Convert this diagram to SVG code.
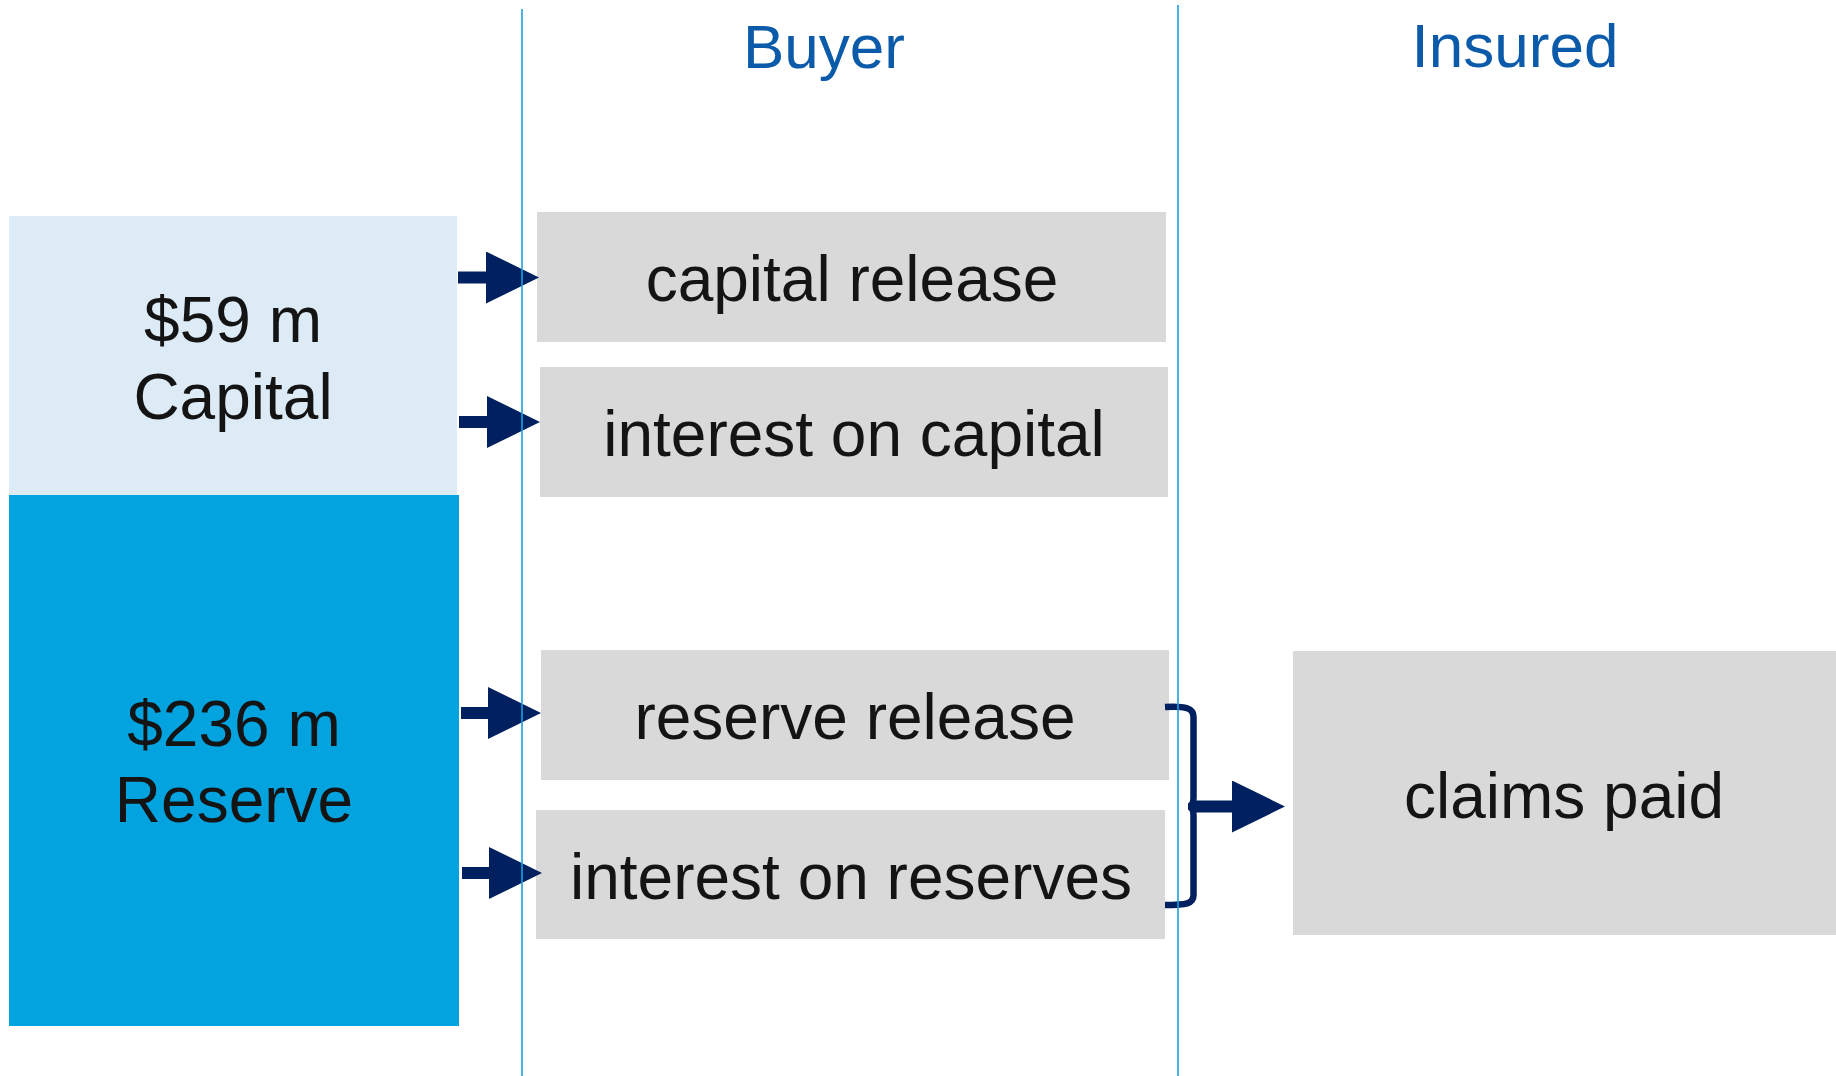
<svg xmlns="http://www.w3.org/2000/svg" width="1836" height="1076" viewBox="0 0 1836 1076">
  <style>
    text { font-family: "Liberation Sans", Arial, sans-serif; }
    .lbl { font-size: 64px; fill: #141414; text-anchor: middle; }
    .hdr { font-size: 62px; fill: #0B5BAA; text-anchor: middle; }
    .flow { fill: #D9D9D9; }
    .conn { stroke: #00205F; stroke-width: 12; fill: none; }
    .lane { stroke: #1BA0DD; stroke-width: 1.6; }
  </style>
  <defs>
    <marker id="head" markerUnits="userSpaceOnUse" markerWidth="54" markerHeight="54" refX="0" refY="26" orient="auto">
      <path d="M0,0 L53,26 L0,52 Z" fill="#00205F"/>
    </marker>
  </defs>

  <rect width="1836" height="1076" fill="#FFFFFF"/>

  <!-- column headings -->
  <text class="hdr" x="824" y="68">Buyer</text>
  <text class="hdr" x="1515" y="67">Insured</text>

  <!-- funding blocks -->
  <g id="capital">
    <rect x="9" y="216" width="448" height="280" fill="#DDEBF7"/>
    <text class="lbl" x="233" y="342">$59 m</text>
    <text class="lbl" x="233" y="419">Capital</text>
  </g>
  <g id="reserve">
    <rect x="9" y="495" width="450" height="531" fill="#03A3E0"/>
    <text class="lbl" x="234" y="746">$236 m</text>
    <text class="lbl" x="234" y="822">Reserve</text>
  </g>

  <!-- buyer flows -->
  <g id="capital-release">
    <rect class="flow" x="537" y="212" width="629" height="130"/>
    <text class="lbl" x="852" y="301">capital release</text>
  </g>
  <g id="interest-on-capital">
    <rect class="flow" x="540" y="367" width="628" height="130"/>
    <text class="lbl" x="854" y="456">interest on capital</text>
  </g>
  <g id="reserve-release">
    <rect class="flow" x="541" y="650" width="628" height="130"/>
    <text class="lbl" x="855" y="739">reserve release</text>
  </g>
  <g id="interest-on-reserves">
    <rect class="flow" x="536" y="810" width="629" height="129"/>
    <text class="lbl" x="851" y="899">interest on reserves</text>
  </g>

  <!-- insured -->
  <g id="claims-paid">
    <rect class="flow" x="1293" y="651" width="543" height="284"/>
    <text class="lbl" x="1564" y="818">claims paid</text>
  </g>

  <!-- connectors -->
  <g id="connectors">
    <line class="conn" x1="458" y1="277.5" x2="486" y2="277.5" marker-end="url(#head)"/>
    <line class="conn" x1="459" y1="422" x2="487" y2="422" marker-end="url(#head)"/>
    <line class="conn" x1="461" y1="713" x2="488" y2="713" marker-end="url(#head)"/>
    <line class="conn" x1="462" y1="873" x2="489" y2="873" marker-end="url(#head)"/>
    <path d="M1165,707 C1186,706 1193.5,708 1193.5,717 V797 Q1193.5,806.5 1188,806.5 Q1193.5,806.5 1193.5,816 V895 C1193.5,904 1186,905 1165,905" stroke="#00205F" stroke-width="6.5" fill="none"/>
    <line class="conn" x1="1192" y1="806.5" x2="1232" y2="806.5" marker-end="url(#head)"/>
  </g>

  <!-- lane dividers -->
  <line class="lane" x1="522" y1="9" x2="522" y2="1076"/>
  <line class="lane" x1="1178" y1="5" x2="1178" y2="1076"/>
</svg>
